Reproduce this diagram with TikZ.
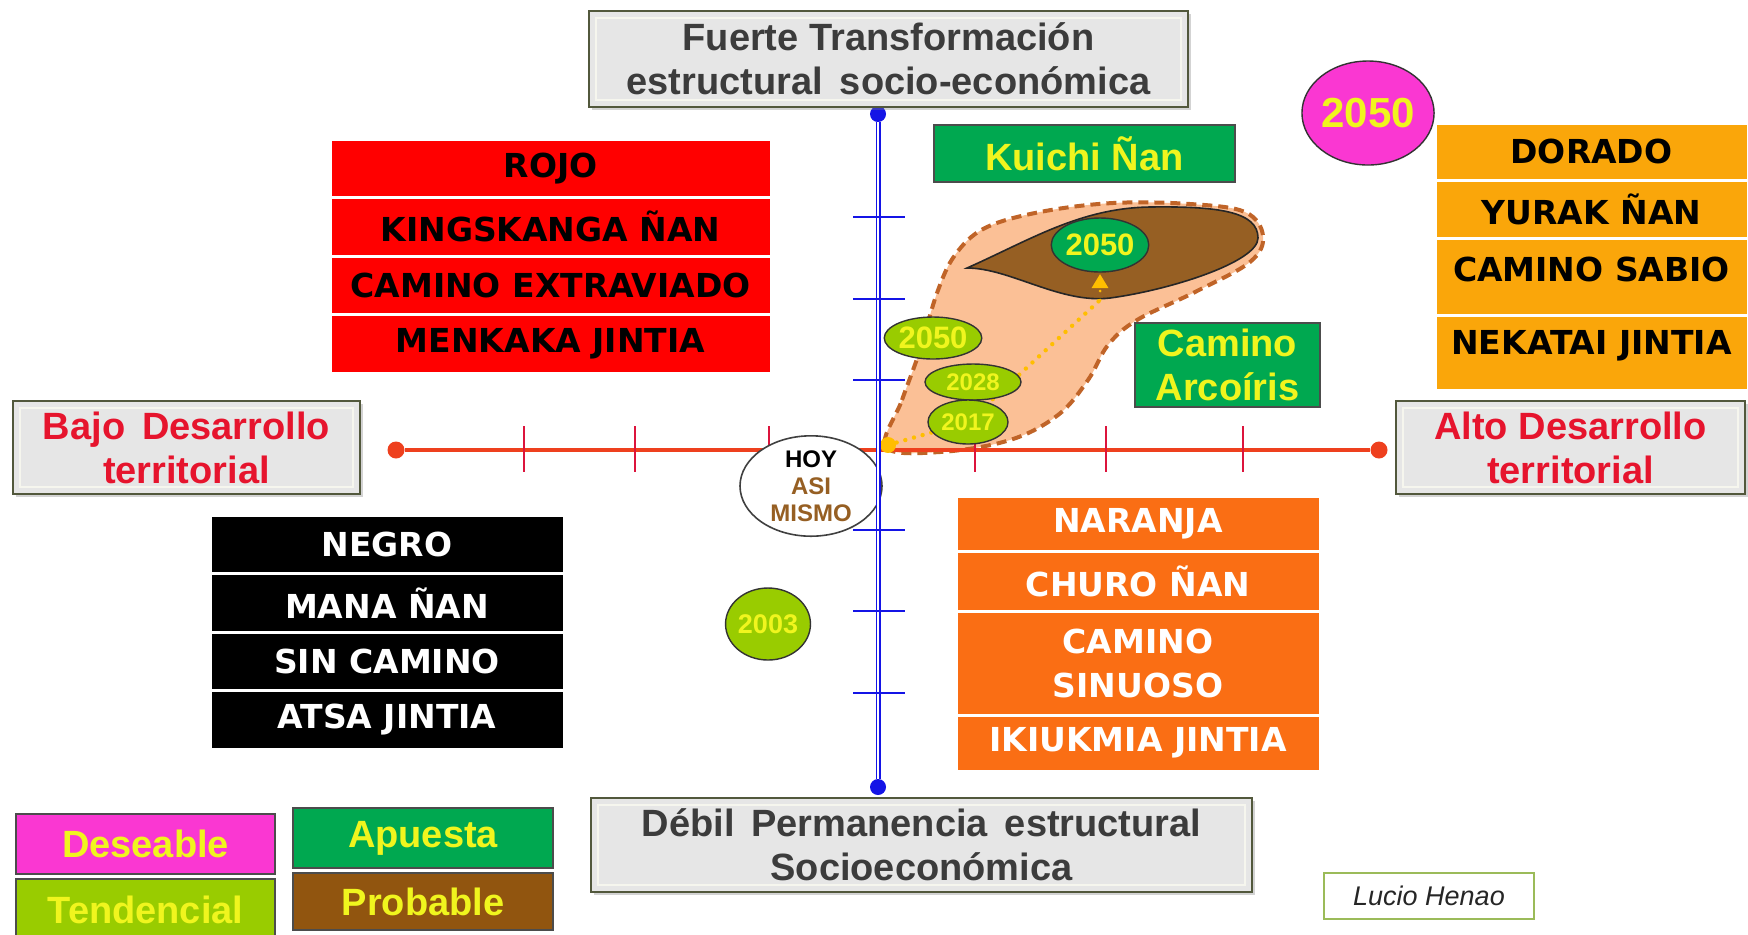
\documentclass[tikz,border=0pt]{standalone}
\usepackage{fontspec}
\setmainfont{Liberation Sans}
\newfontfamily\vfont{DejaVu Sans}
\usetikzlibrary{shapes.geometric,shadows,arrows.meta}
\definecolor{boxgray}{RGB}{230,230,230}
\definecolor{boxedge}{RGB}{82,88,60}
\definecolor{boxinner}{RGB}{246,246,238}
\definecolor{graytext}{RGB}{60,60,60}
\definecolor{redtext}{RGB}{230,20,45}
\definecolor{rojo}{RGB}{255,0,0}
\definecolor{naranja}{RGB}{250,110,20}
\definecolor{dorado}{RGB}{250,166,10}
\definecolor{verde}{RGB}{0,168,80}
\definecolor{amarillo}{RGB}{240,245,30}
\definecolor{tendgreen}{RGB}{153,204,0}
\definecolor{marron}{RGB}{145,85,15}
\definecolor{innerbrown}{RGB}{150,95,35}
\definecolor{magenta2}{RGB}{250,55,210}
\definecolor{peach}{RGB}{251,192,150}
\definecolor{blobedge}{RGB}{192,100,40}
\definecolor{axisred}{RGB}{238,64,30}
\definecolor{tickred}{RGB}{220,20,60}
\definecolor{axisblue}{RGB}{20,20,230}
\definecolor{dotyellow}{RGB}{255,190,0}
\definecolor{lucioedge}{RGB}{155,187,89}
\begin{document}
\begin{tikzpicture}[x=0.5pt,y=-0.5pt,
  graybox/.style={rectangle, fill=boxgray, draw=boxedge, line width=1.3pt, inner sep=0pt, align=center,
    font=\bfseries\fontsize{19}{22}\selectfont,
    drop shadow={shadow xshift=1.5pt, shadow yshift=-1.5pt, opacity=0.35},
    path picture={\draw[boxinner, line width=0.8pt]
      ([shift={(3.5pt,3.5pt)}]path picture bounding box.south west) rectangle
      ([shift={(-3.5pt,-3.5pt)}]path picture bounding box.north east);}},
  rowbox/.style={rectangle, draw=white, line width=1.5pt, inner sep=0pt, align=center,
    font=\vfont\bfseries\fontsize{16.5}{22}\selectfont},
  greenbox/.style={rectangle, fill=verde, draw=black!70, line width=0.6pt, inner sep=0pt, align=center,
    text=amarillo, font=\bfseries\fontsize{19}{22}\selectfont},
  legbox/.style={rectangle, draw=black!70, line width=0.6pt, inner sep=0pt,
    text=amarillo, font=\bfseries\fontsize{19}{22}\selectfont},
  yearell/.style={ellipse, draw=black!80, line width=0.7pt, inner sep=0pt, text=amarillo},
  hdot/.style={circle, fill=axisred, inner sep=0pt, minimum size=8.5pt},
  vdot/.style={circle, fill=axisblue, inner sep=0pt, minimum size=8pt},
  htick/.style={tickred, line width=1.1pt},
  vtick/.style={axisblue, line width=1.3pt},
  ydot/.style={dotyellow, line width=2.2pt, line cap=round, dash pattern=on 0pt off 4.5pt}
]
\useasboundingbox (0,0) rectangle (1748,934);

% ---- scenario blob ----
\draw[fill=peach, draw=blobedge, line width=2pt, dash pattern=on 5pt off 3pt]
  plot[smooth cycle, tension=0.6] coordinates {(886,447) (902,400) (920,350) (937,293) (955,255) (985,228) (1040,212) (1113,203) (1190,204) (1245,212) (1263,236) (1250,262) (1195,292) (1137,320) (1108,345) (1088,380) (1058,415) (1010,440) (940,452)};
\draw[fill=innerbrown, draw=black!85, line width=0.8pt]
  (967,268) .. controls (1030,240) and (1080,208) .. (1150,207)
  .. controls (1220,206) and (1258,212) .. (1258,238)
  .. controls (1258,262) and (1170,290) .. (1110,298)
  .. controls (1060,304) and (1010,268) .. (967,268) -- cycle;

% ---- horizontal axis ----
\node[hdot] (hl) at (396,450) {};
\node[hdot] (hr) at (1379,450) {};
\draw[axisred, line width=2.2pt] (hl) -- (hr);
\foreach \x/\n in {524/a,635/b,769/c,975/d,1106/e,1243/f}{
  \coordinate (ht\n1) at (\x,426); \coordinate (ht\n2) at (\x,472);
  \draw[htick] (ht\n1) -- (ht\n2);
}

% ---- dotted path ----
\coordinate (o) at (888,445);
\coordinate (c17) at (968,422);
\coordinate (bend) at (1100,300);
\coordinate (tip) at (1100,274);
\fill[dotyellow] (o) circle (4pt);
\draw[ydot] (o) -- (c17) -- (bend);
\draw[dotyellow, line width=1.5pt, -{Triangle[length=7pt,width=8pt]}, dash pattern=on 0pt off 4.5pt, line cap=round] (bend) -- (tip);

% ---- year ellipses ----
\node[yearell, fill=verde, minimum width=48pt, minimum height=27pt, font=\bfseries\fontsize{15.5}{18}\selectfont] (e2050a) at (1100,245) {2050};
\node[yearell, fill=tendgreen, minimum width=48pt, minimum height=21pt, font=\bfseries\fontsize{15.5}{18}\selectfont] (e2050b) at (933,338) {2050};
\node[yearell, fill=tendgreen, minimum width=48pt, minimum height=18pt, font=\bfseries\fontsize{12}{14}\selectfont] (e2028) at (973,382) {2028};
\node[yearell, fill=tendgreen, minimum width=40pt, minimum height=22pt, font=\bfseries\fontsize{12}{14}\selectfont] (e2017) at (c17) {2017};
\node[yearell, fill=tendgreen, minimum width=42pt, minimum height=36pt, font=\bfseries\fontsize{13.5}{16}\selectfont] (e2003) at (768,624) {2003};
\node[yearell, fill=magenta2, minimum width=62pt, minimum height=52pt, font=\bfseries\fontsize{21}{24}\selectfont] (e2050p) at (1368,113) {2050};

% ---- HOY ----
\node[ellipse, fill=white, draw=black!75, line width=0.8pt, minimum width=71pt, minimum height=48pt, inner sep=0pt, align=center,
  font=\bfseries\fontsize{12}{13.5}\selectfont] (hoy) at (811,486)
  {HOY\\\textcolor{innerbrown}{ASI}\\\textcolor{innerbrown}{MISMO}};

% ---- vertical axis ----
\node[vdot] (vt) at (878,114) {};
\node[vdot] (vb) at (878,787) {};
\draw[axisblue, line width=0.8pt, double=white, double distance=0.9pt] (vt) -- (vb);
\foreach \y/\n in {217/a,299/b,380/c,530/d,611/e,693/f}{
  \coordinate (vt\n1) at (853,\y); \coordinate (vt\n2) at (905,\y);
  \draw[vtick] (vt\n1) -- (vt\n2);
}

% ---- axis boxes ----
\node[graybox, text=graytext, minimum width=299.5pt, minimum height=48pt] (top) at (888.5,59)
  {Fuerte Transformación\\estructural\, socio-económica};
\node[graybox, text=graytext, minimum width=330.5pt, minimum height=47pt] (bottom) at (921.5,845)
  {Débil\, Permanencia\, estructural\\Socioeconómica};
\node[graybox, text=redtext, minimum width=173.5pt, minimum height=46.5pt] (bajo) at (186.5,447.5)
  {Bajo\, Desarrollo\\territorial};
\node[graybox, text=redtext, minimum width=174.5pt, minimum height=46.5pt] (alto) at (1570.5,447.5)
  {Alto Desarrollo\\territorial};

% ---- ROJO ----
\node[rowbox, fill=rojo, text=black, minimum width=220.5pt, minimum height=29.25pt] (r1) at (550.5,168.25) {ROJO};
\node[rowbox, fill=rojo, text=black, minimum width=220.5pt, minimum height=29.25pt] (r2) at (550.5,226.75) {KINGSKANGA ÑAN};
\node[rowbox, fill=rojo, text=black, minimum width=220.5pt, minimum height=29.25pt] (r3) at (550.5,285.25) {CAMINO EXTRAVIADO};
\node[rowbox, fill=rojo, text=black, minimum width=220.5pt, minimum height=29.25pt] (r4) at (550.5,343.75) {MENKAKA JINTIA};

% ---- NEGRO ----
\node[rowbox, fill=black, text=white, minimum width=177pt, minimum height=29.25pt] (n1) at (387,544.25) {NEGRO};
\node[rowbox, fill=black, text=white, minimum width=177pt, minimum height=29.25pt] (n2) at (387,602.75) {MANA ÑAN};
\node[rowbox, fill=black, text=white, minimum width=177pt, minimum height=29.25pt] (n3) at (387,661.25) {SIN CAMINO};
\node[rowbox, fill=black, text=white, minimum width=177pt, minimum height=29.25pt] (n4) at (387,719.75) {ATSA JINTIA};

% ---- NARANJA ----
\node[rowbox, fill=naranja, text=white, minimum width=182pt, minimum height=27.5pt] (a1) at (1138,523.5) {NARANJA};
\node[rowbox, fill=naranja, text=white, minimum width=182pt, minimum height=30pt] (a2) at (1138,581) {CHURO ÑAN};
\node[rowbox, fill=naranja, text=white, minimum width=182pt, minimum height=52pt] (a3) at (1138,663) {CAMINO\\SINUOSO};
\node[rowbox, fill=naranja, text=white, minimum width=182pt, minimum height=28pt] (a4) at (1138,743) {IKIUKMIA JINTIA};

% ---- DORADO ----
\node[rowbox, fill=dorado, text=black, minimum width=156.5pt, minimum height=28.5pt] (d1) at (1591.5,151.5) {DORADO};
\node[rowbox, fill=dorado, text=black, minimum width=156.5pt, minimum height=29pt] (d2) at (1591.5,209) {YURAK ÑAN};
\node[rowbox, fill=dorado, minimum width=156.5pt, minimum height=38.5pt,
  label={[yshift=3.5pt, font=\vfont\bfseries\fontsize{16.5}{22}\selectfont, text=black]center:CAMINO SABIO}] (d3) at (1591.5,276.5) {};
\node[rowbox, fill=dorado, minimum width=156.5pt, minimum height=37.5pt,
  label={[yshift=3.5pt, font=\vfont\bfseries\fontsize{16.5}{22}\selectfont, text=black]center:NEKATAI JINTIA}] (d4) at (1591.5,352.5) {};

% ---- green boxes ----
\node[greenbox, minimum width=150.5pt, minimum height=28.5pt] (kuichi) at (1084.5,153.5) {Kuichi Ñan};
\node[greenbox, minimum width=92.5pt, minimum height=42pt] (arco) at (1227.5,365) {Camino\\Arcoíris};

% ---- legend ----
\node[legbox, fill=magenta2, minimum width=129.5pt, minimum height=30pt] (deseable) at (145.5,844) {Deseable};
\node[legbox, fill=tendgreen, minimum width=129.5pt, minimum height=30.5pt] (tend) at (145.5,909.5) {Tendencial};
\node[legbox, fill=verde, minimum width=130pt, minimum height=30pt] (apuesta) at (423,838) {Apuesta};
\node[legbox, fill=marron, minimum width=130pt, minimum height=28.5pt] (probable) at (423,901.5) {Probable};

% ---- author ----
\node[rectangle, draw=lucioedge, line width=0.8pt, fill=white, minimum width=105pt, minimum height=23pt, inner sep=0pt,
  font=\itshape\fontsize{13.5}{16}\selectfont, text=black!85] (lucio) at (1429,896) {Lucio Henao};
\end{tikzpicture}
\end{document}
